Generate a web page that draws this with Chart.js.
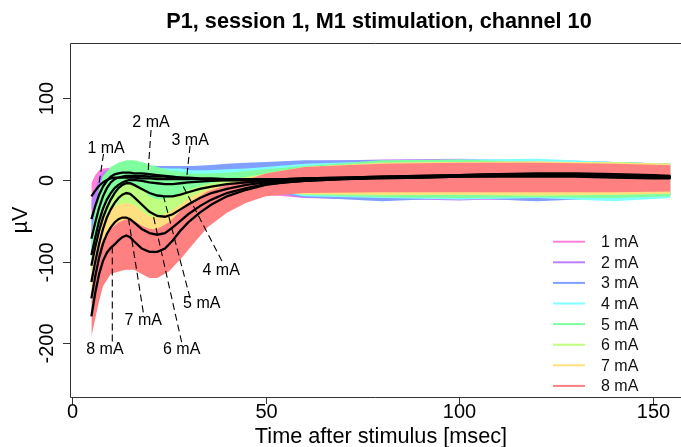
<!DOCTYPE html>
<html>
<head>
<meta charset="utf-8">
<script src="https://cdn.jsdelivr.net/npm/chart.js@4.4.1/dist/chart.umd.min.js"></script>
<style>
  html, body { margin: 0; padding: 0; background: #fff; }
  canvas { display: block; }
</style>
</head>
<body>
<canvas id="chart" width="681" height="447" style="width:681px;height:447px"></canvas>
<script>
/* ---------------------------
   Data
--------------------------- */
const levels = ["1 mA", "2 mA", "3 mA", "4 mA", "5 mA", "6 mA", "7 mA", "8 mA"];
const levelColors = ["#FF80DF", "#BF80FF", "#809FFF", "#80FFFF", "#80FF9F", "#BFFF80", "#FFDF80", "#FF8080"];

const xTicks = [0, 50, 100, 150];
const yTicks = [-200, -100, 0, 100];

// mean responses (black lines), msec / µV
const tMean = [5, 6, 7, 8, 9, 10, 11, 12, 13, 14, 15, 16, 18, 20, 22, 24, 26, 28, 30, 33, 36, 40, 45,
               50, 55, 60, 70, 80, 90, 100, 110, 120, 130, 140, 150, 154.5];
const mean1 = [-20, -13, -7, -3, 0, 2, 3, 3, 3, 3, 3, 3, 2, 2, 1, 1, 1, 1, 1, 1, 0, 0, 0,
               0, 1, 1, 2, 3, 3, 4, 4, 4, 4, 3, 2, 2];
const mean2 = [-48, -32, -18, -8, -1, 4, 7, 8, 9, 9, 9, 8, 8, 7, 6, 5, 4, 3, 2, 1, 1, 0, 0,
               0, 1, 1, 2, 3, 4, 5, 5, 6, 5, 4, 3, 3];
const mean3 = [-72, -52, -34, -20, -10, -3, 1, 3, 4, 5, 5, 5, 5, 4, 4, 4, 3, 3, 3, 2, 2, 1, 1,
               1, 1, 2, 3, 4, 5, 6, 7, 7, 6, 5, 4, 3];
const mean4 = [-92, -70, -50, -35, -24, -16, -10, -6, -3, -1, 0, 0, -1, -3, -4, -5, -5, -4, -3, -2, -1, 0, 0,
               0, 1, 2, 3, 4, 5, 6, 7, 8, 8, 7, 6, 5];
const mean5 = [-105, -82, -62, -46, -34, -24, -16, -10, -6, -4, -4, -6, -11, -16, -19, -20, -20, -18, -15, -11, -8, -5, -3,
               -1, 0, 1, 2, 3, 4, 5, 6, 7, 7, 6, 5, 4];
const mean6 = [-125, -100, -78, -60, -46, -36, -28, -22, -18, -16, -17, -21, -30, -39, -44, -45, -42, -36, -30, -22, -16, -11, -6,
               -3, -1, 0, 2, 3, 4, 5, 6, 7, 7, 6, 5, 4];
const mean7 = [-145, -118, -95, -78, -66, -58, -52, -48, -46, -46, -48, -52, -60, -65, -67, -65, -58, -50, -42, -32, -24, -16, -10,
               -5, -3, -1, 1, 3, 4, 5, 6, 7, 7, 6, 5, 4];
const mean8 = [-167, -138, -115, -99, -89, -83, -79, -74, -70, -68, -70, -75, -84, -88, -88, -84, -74, -62, -52, -40, -30, -20, -12,
               -6, -3, -1, 1, 2, 3, 4, 5, 6, 6, 5, 4, 3];
const means = [mean1, mean2, mean3, mean4, mean5, mean6, mean7, mean8];

// envelope of the single trials for each level (lower / upper edge of the cloud)
const tEnv = [5, 6, 7, 8, 10, 12, 14, 16, 18, 20, 22, 25, 28, 31, 35, 40, 45, 50, 60, 80, 100, 120, 140, 154.5];
const lo1 = [-38, -26, -16, -10, -6, -5, -5, -5, -5, -6, -7, -8, -9, -10, -12, -14, -16, -18, -22, -24, -23, -25, -22, -20];
const hi1 = [-4, 6, 12, 14, 15, 15, 15, 15, 14, 14, 14, 14, 14, 14, 14, 15, 17, 18, 21, 22, 24, 22, 22, 20];
const lo2 = [-72, -52, -34, -20, -6, -2, -2, -3, -4, -5, -6, -7, -8, -9, -10, -11, -13, -15, -22, -23, -25, -22, -25, -20];
const hi2 = [-25, -10, 4, 10, 14, 15, 15, 15, 15, 15, 14, 14, 14, 14, 15, 16, 18, 20, 23, 25, 26, 24, 22, 20];
const lo3 = [-95, -72, -50, -34, -16, -8, -5, -4, -5, -6, -8, -9, -10, -11, -12, -12, -13, -14, -21, -26, -22, -26, -22, -20];
const hi3 = [-50, -28, -10, 0, 10, 13, 14, 15, 16, 17, 17, 17, 17, 17, 18, 20, 21, 22, 24, 24, 22, 25, 22, 20];
const lo4 = [-112, -88, -66, -50, -32, -22, -16, -14, -16, -18, -20, -22, -20, -18, -15, -13, -12, -12, -20, -22, -24, -22, -26, -22];
const hi4 = [-72, -45, -22, -6, 8, 12, 14, 15, 15, 15, 15, 14, 14, 12, 12, 13, 14, 16, 20, 23, 25, 26, 22, 20];
const lo5 = [-125, -100, -80, -64, -44, -32, -26, -26, -30, -34, -36, -36, -32, -26, -20, -14, -11, -10, -18, -21, -22, -21, -22, -20];
const hi5 = [-70, -35, -10, 5, 16, 21, 24, 24, 22, 19, 16, 12, 10, 8, 8, 9, 11, 13, 17, 24, 25, 22, 22, 20];
const lo6 = [-145, -120, -96, -78, -58, -48, -42, -44, -52, -60, -62, -58, -50, -40, -30, -20, -14, -12, -18, -19, -18, -20, -18, -17];
const hi6 = [-95, -70, -52, -38, -20, -10, -5, -6, -12, -20, -24, -22, -16, -10, -5, 0, 4, 8, 16, 21, 22, 22, 22, 20];
const lo7 = [-165, -140, -118, -100, -85, -78, -74, -76, -82, -86, -86, -78, -66, -52, -38, -26, -18, -15, -17, -18, -18, -18, -18, -17];
const hi7 = [-110, -82, -62, -48, -35, -30, -28, -30, -38, -44, -46, -40, -30, -20, -11, -4, 2, 8, 16, 21, 22, 23, 21, 20];
const lo8 = [-192, -170, -148, -130, -115, -112, -110, -110, -115, -120, -120, -112, -97, -80, -58, -40, -28, -20, -16, -15, -15, -15, -15, -14];
const hi8 = [-140, -105, -85, -72, -60, -52, -48, -50, -56, -60, -60, -52, -38, -26, -14, -6, 0, 8, 16, 20, 21, 21, 20, 18];
const lows = [lo1, lo2, lo3, lo4, lo5, lo6, lo7, lo8];
const highs = [hi1, hi2, hi3, hi4, hi5, hi6, hi7, hi8];

// annotation labels and their dashed leaders: [msec, µV]
const labelAt  = [[8.8, 39.8], [20.4, 71], [30.5, 49], [38.5, -110], [33.5, -150.6], [28.3, -206.9], [18.4, -171.4], [8.5, -206.9]];
const leaderFrom = [[8.13, 31.8], [20.4, 61.2], [30.47, 41.6], [38.7, -99.2], [30.47, -144.5], [28.3, -198.5], [18.4, -162], [10.4, -197.6]];
const leaderTo   = [[6.84, -8.6], [19.62, 8], [29.61, 3], [28.3, -4], [23.62, -20], [20.85, -41], [14.54, -46], [10.4, -81]];

/* ---------------------------
   Axis ranges (R style box)
--------------------------- */
const X_MIN = -0.52, X_MAX = 157.23;
const Y_MIN = -265.7, Y_MAX = 167.7;
const FONT = '"Liberation Sans", Arial, Helvetica, sans-serif';

/* ---------------------------
   Datasets
--------------------------- */
function pts(xs, ys) {
  return xs.map((x, i) => ({ x, y: ys[i] }));
}

const datasets = [];

levels.forEach((name, k) => {
  datasets.push({
    data: pts(tEnv, lows[k]),
    borderColor: "rgba(0,0,0,0)",
    borderWidth: 0,
    pointRadius: 0,
    fill: false,
    order: 30 - k
  });
  datasets.push({
    data: pts(tEnv, highs[k]),
    borderColor: "rgba(0,0,0,0)",
    borderWidth: 0,
    pointRadius: 0,
    backgroundColor: levelColors[k],
    fill: "-1",
    order: 30 - k
  });
});

means.forEach(m => {
  datasets.push({
    data: pts(tMean, m),
    borderColor: "#000",
    borderWidth: 2.3,
    pointRadius: 0,
    fill: false,
    order: 2
  });
});

leaderFrom.forEach((p, i) => {
  datasets.push({
    data: [{ x: p[0], y: p[1] }, { x: leaderTo[i][0], y: leaderTo[i][1] }],
    borderColor: "#000",
    borderWidth: 1.1,
    borderDash: [7, 4],
    pointRadius: 0,
    fill: false,
    order: 1
  });
});

/* ---------------------------
   Axes, titles, legend, labels
--------------------------- */
const decor = {
  id: "decor",
  afterDraw(chart) {
    const { ctx, chartArea: a, scales: { x, y } } = chart;
    const W = chart.width;
    ctx.save();

    // box (right side lies outside the window)
    ctx.strokeStyle = "#333";
    ctx.lineWidth = 1;
    ctx.beginPath();
    ctx.moveTo(W, a.top + 0.5);
    ctx.lineTo(a.left + 0.5, a.top + 0.5);
    ctx.lineTo(a.left + 0.5, a.bottom + 0.5);
    ctx.lineTo(W, a.bottom + 0.5);
    ctx.stroke();

    ctx.fillStyle = "#000";

    // x ticks
    ctx.font = "20px " + FONT;
    ctx.textAlign = "center";
    ctx.textBaseline = "alphabetic";
    xTicks.forEach(v => {
      const px = Math.round(x.getPixelForValue(v)) + 0.5;
      ctx.beginPath();
      ctx.moveTo(px, a.bottom);
      ctx.lineTo(px, a.bottom + 7);
      ctx.stroke();
      ctx.fillText(String(v), px, 418);
    });

    // y ticks (rotated labels)
    yTicks.forEach(v => {
      const py = Math.round(y.getPixelForValue(v)) + 0.5;
      ctx.beginPath();
      ctx.moveTo(a.left - 7, py);
      ctx.lineTo(a.left, py);
      ctx.stroke();
      ctx.save();
      ctx.translate(47, py);
      ctx.rotate(-Math.PI / 2);
      ctx.textBaseline = "middle";
      ctx.fillText(String(v), 0, 0);
      ctx.restore();
    });

    // axis titles
    ctx.font = "21.7px " + FONT;
    ctx.textBaseline = "alphabetic";
    ctx.fillText("Time after stimulus [msec]", 381, 443);
    ctx.save();
    ctx.translate(21, (a.top + a.bottom) / 2);
    ctx.rotate(-Math.PI / 2);
    ctx.textBaseline = "middle";
    ctx.fillText("\u00B5V", 0, 0);
    ctx.restore();

    // main title
    ctx.font = "bold 21.7px " + FONT;
    ctx.fillText("P1, session 1, M1 stimulation, channel 10", 379, 28);

    // legend
    ctx.font = "16px " + FONT;
    ctx.textAlign = "left";
    ctx.textBaseline = "middle";
    levels.forEach((name, k) => {
      const ly = 241.7 + k * 20.6;
      ctx.strokeStyle = levelColors[k];
      ctx.lineWidth = 2;
      ctx.beginPath();
      ctx.moveTo(553, ly);
      ctx.lineTo(585, ly);
      ctx.stroke();
      ctx.fillStyle = "#111";
      ctx.fillText(name, 601, ly + 1);
    });

    // curve labels
    ctx.textAlign = "center";
    ctx.fillStyle = "#000";
    levels.forEach((name, k) => {
      const [t, v] = labelAt[k];
      ctx.fillText(name, x.getPixelForValue(t), y.getPixelForValue(v) + 1);
    });

    ctx.restore();
  }
};

new Chart(document.getElementById("chart"), {
  type: "line",
  data: { datasets },
  options: {
    responsive: false,
    animation: false,
    devicePixelRatio: 1,
    layout: { padding: { left: 70, right: 0, top: 43, bottom: 50 } },
    plugins: {
      legend: { display: false },
      tooltip: { enabled: false },
      title: { display: false }
    },
    elements: { line: { tension: 0 }, point: { radius: 0 } },
    scales: {
      x: { type: "linear", min: X_MIN, max: X_MAX, display: false },
      y: { type: "linear", min: Y_MIN, max: Y_MAX, display: false }
    }
  },
  plugins: [decor]
});
</script>
</body>
</html>
